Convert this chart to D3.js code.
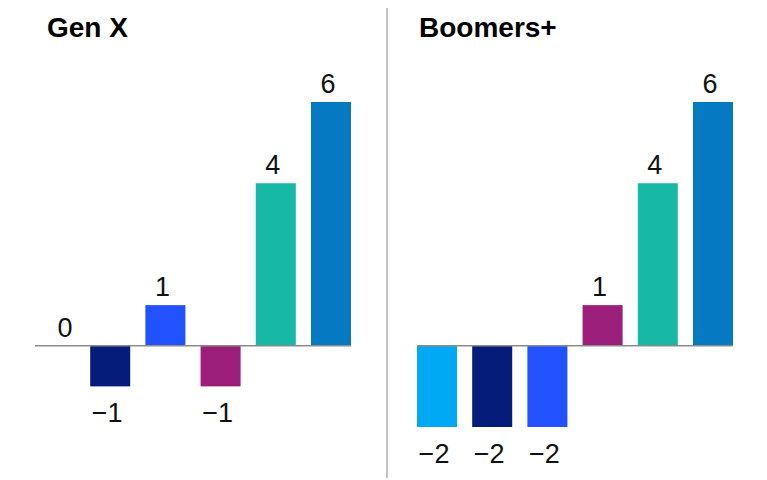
<!DOCTYPE html>
<html>
<head>
<meta charset="utf-8">
<script src="https://cdn.jsdelivr.net/npm/d3@7"></script>
<style>
  body { margin: 0; background: #fff; }
  svg { display: block; font-family: "Liberation Sans", Arial, sans-serif; }
</style>
</head>
<body>
<div id="chart"></div>
<script>
// datos
const panelTitles = ["Gen X", "Boomers+"];
const genXValues = [0, -1, 1, -1, 4, 6];
const boomersValues = [-2, -2, -2, 1, 4, 6];
const barColors = ["#00a9f4", "#051c7a", "#2251ff", "#9b1f7a", "#17b8a6", "#0679c3"];

const width = 767, height = 480;

const svg = d3.select("#chart").append("svg")
    .attr("width", width)
    .attr("height", height);

// eje vertical común a los dos paneles
const y = d3.scaleLinear([-2, 6], [427, 102]);

// separador central
svg.append("line")
    .attr("x1", 387).attr("x2", 387)
    .attr("y1", 8).attr("y2", 478)
    .attr("stroke", "#9a9a9a")
    .attr("stroke-width", 1.2);

const panels = [
    { title: panelTitles[0], values: genXValues, x0: 35, x1: 351, tx: 47 },
    { title: panelTitles[1], values: boomersValues, x0: 417, x1: 733, tx: 419 }
];

panels.forEach(p => {
    const g = svg.append("g");
    const x = d3.scaleBand(d3.range(p.values.length), [p.x0, p.x1])
        .paddingInner(0.275)
        .paddingOuter(0);

    g.append("text")
        .attr("x", p.tx)
        .attr("y", 37)
        .attr("font-size", 28)
        .attr("font-weight", "bold")
        .attr("fill", "#000")
        .text(p.title);

    g.selectAll("rect")
        .data(p.values)
        .enter().append("rect")
        .attr("x", (d, i) => x(i))
        .attr("width", x.bandwidth())
        .attr("y", d => y(Math.max(d, 0)))
        .attr("height", d => Math.abs(y(d) - y(0)))
        .attr("fill", (d, i) => barColors[i]);

    // línea base
    g.append("line")
        .attr("x1", p.x0).attr("x2", p.x1)
        .attr("y1", y(0)).attr("y2", y(0))
        .attr("stroke", "#8c8c8c")
        .attr("stroke-width", 1.5);

    g.selectAll("text.val")
        .data(p.values)
        .enter().append("text")
        .classed("val", true)
        .attr("x", (d, i) => x(i) + x.bandwidth() / 2 + (d === 0 ? 10 : -3))
        .attr("y", d => d >= 0 ? y(d) - 9 : y(d) + 36)
        .attr("text-anchor", "middle")
        .attr("font-size", 27)
        .attr("fill", "#111")
        .text(d => d < 0 ? "\u2212" + Math.abs(d) : d);
});
</script>
</body>
</html>
